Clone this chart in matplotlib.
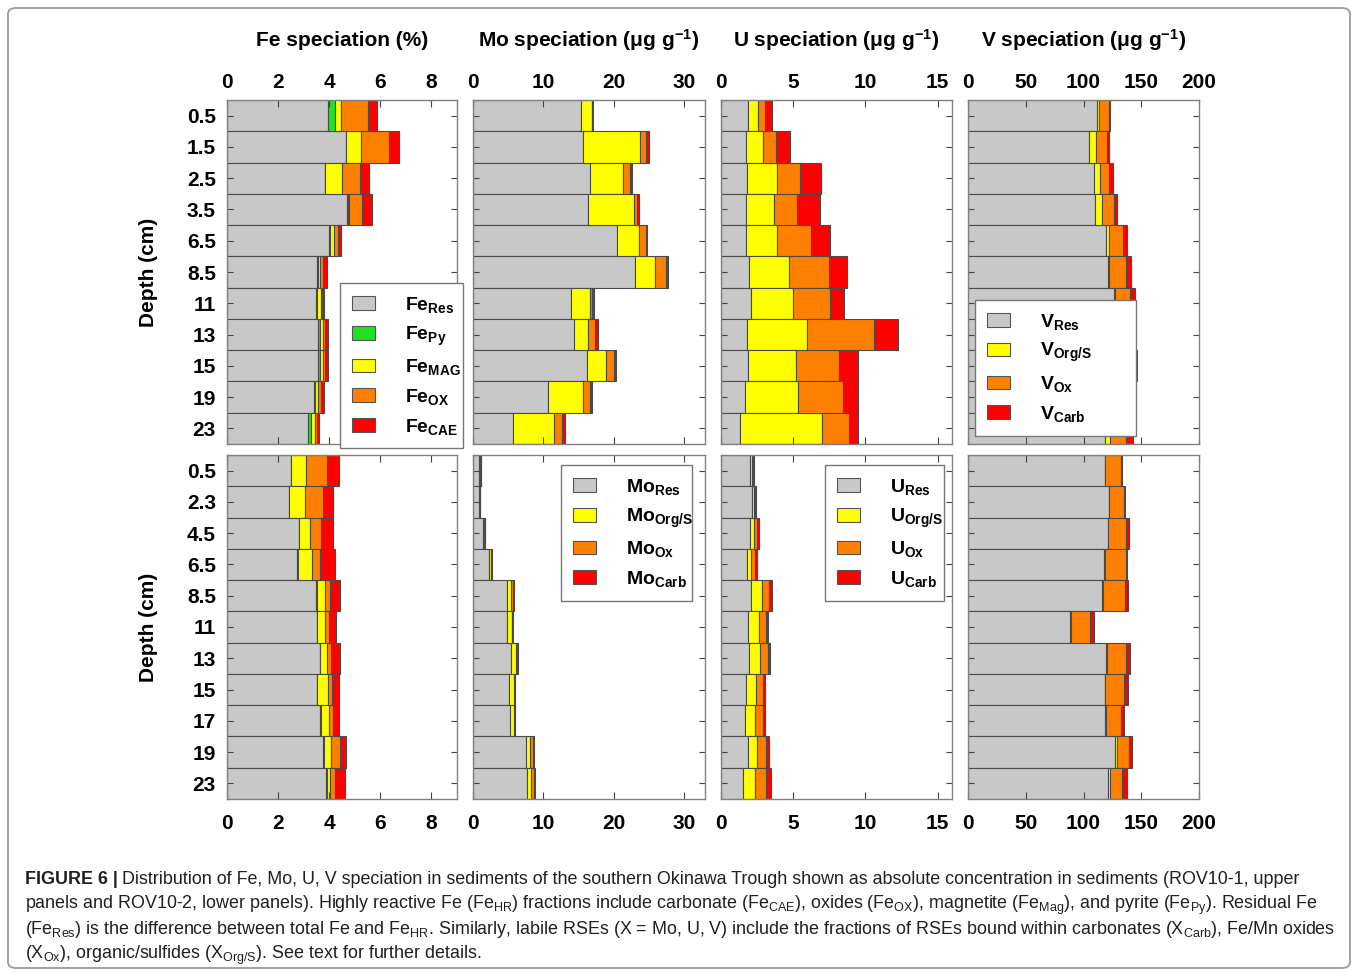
import matplotlib
matplotlib.use('Agg')
import matplotlib.pyplot as plt
from matplotlib import font_manager
from matplotlib.patches import Patch, FancyBboxPatch
import numpy as np

# depth labels (cm)
depth1 = ['0.5', '1.5', '2.5', '3.5', '6.5', '8.5', '11', '13', '15', '19', '23']
depth2 = ['0.5', '2.3', '4.5', '6.5', '8.5', '11', '13', '15', '17', '19', '23']

# ROV10-1 (upper panels)
fe1_res = [3.97, 4.64, 3.82, 4.70, 3.98, 3.52, 3.48, 3.57, 3.58, 3.40, 3.18]
fe1_py = [0.26, 0.03, 0.02, 0.04, 0.04, 0.03, 0.03, 0.05, 0.05, 0.06, 0.09]
fe1_mag = [0.25, 0.56, 0.67, 0.02, 0.16, 0.10, 0.15, 0.13, 0.13, 0.12, 0.19]
fe1_ox = [1.05, 1.10, 0.71, 0.51, 0.16, 0.09, 0.05, 0.08, 0.07, 0.08, 0.06]
fe1_cae = [0.34, 0.41, 0.33, 0.39, 0.14, 0.17, 0.07, 0.14, 0.12, 0.13, 0.09]

mo1_res = [15.4, 15.7, 16.6, 16.3, 20.5, 23.0, 13.9, 14.3, 16.2, 10.7, 5.65]
mo1_org = [1.5, 8.1, 4.7, 6.55, 3.06, 2.87, 2.68, 2.1, 2.78, 4.93, 5.84]
mo1_ox = [0.05, 0.86, 1.05, 0.48, 1.0, 1.58, 0.38, 1.0, 1.1, 0.96, 1.24]
mo1_carb = [0.1, 0.33, 0.33, 0.29, 0.23, 0.34, 0.29, 0.43, 0.33, 0.33, 0.38]

u1_res = [1.86, 1.74, 1.81, 1.70, 1.72, 1.91, 2.05, 1.81, 1.84, 1.65, 1.35]
u1_org = [0.70, 1.14, 2.05, 1.95, 2.19, 2.77, 2.93, 4.12, 3.33, 3.65, 5.65]
u1_ox = [0.51, 0.93, 1.63, 1.63, 2.32, 2.77, 2.56, 4.65, 3.02, 3.12, 1.88]
u1_carb = [0.46, 0.96, 1.46, 1.60, 1.30, 1.28, 0.98, 1.70, 1.30, 1.07, 0.60]

v1_res = [111.8, 105.1, 109.2, 109.8, 119.9, 121.3, 126.0, 125.1, 127.1, 115.6, 119.0]
v1_org = [1.7, 5.5, 4.9, 6.3, 2.3, 1.2, 1.4, 0.6, 1.2, 5.5, 4.1]
v1_ox = [9.0, 9.6, 8.4, 10.2, 11.9, 14.5, 12.5, 13.9, 13.3, 13.3, 13.6]
v1_carb = [0.6, 1.7, 2.9, 2.3, 3.5, 4.0, 4.9, 4.6, 4.9, 4.3, 6.1]

# ROV10-2 (lower panels)
fe2_res = [2.51, 2.42, 2.81, 2.75, 3.50, 3.52, 3.63, 3.53, 3.65, 3.74, 3.87]
fe2_py = [0.01, 0.01, 0.01, 0.01, 0.03, 0.02, 0.01, 0.01, 0.01, 0.06, 0.04]
fe2_mag = [0.57, 0.62, 0.41, 0.56, 0.30, 0.29, 0.28, 0.42, 0.32, 0.26, 0.11]
fe2_ox = [0.81, 0.69, 0.44, 0.30, 0.19, 0.17, 0.16, 0.14, 0.17, 0.38, 0.22]
fe2_cae = [0.48, 0.42, 0.46, 0.62, 0.41, 0.28, 0.33, 0.28, 0.23, 0.23, 0.36]

mo2_res = [0.86, 0.86, 1.44, 2.3, 4.88, 4.88, 5.45, 5.17, 5.26, 7.56, 7.66]
mo2_org = [0.2, 0.15, 0.18, 0.28, 0.57, 0.62, 0.67, 0.62, 0.53, 0.57, 0.57]
mo2_ox = [0.02, 0.02, 0.03, 0.05, 0.24, 0.1, 0.14, 0.14, 0.14, 0.38, 0.43]
mo2_carb = [0.02, 0.02, 0.02, 0.02, 0.1, 0.09, 0.1, 0.1, 0.1, 0.19, 0.14]

u2_res = [2.0, 2.14, 1.98, 1.81, 2.09, 1.86, 1.91, 1.70, 1.65, 1.84, 1.53]
u2_org = [0.16, 0.14, 0.33, 0.28, 0.74, 0.77, 0.79, 0.72, 0.70, 0.67, 0.84]
u2_ox = [0.05, 0.09, 0.21, 0.28, 0.49, 0.51, 0.53, 0.51, 0.53, 0.58, 0.75]
u2_carb = [0.05, 0.05, 0.09, 0.09, 0.21, 0.14, 0.16, 0.14, 0.16, 0.21, 0.37]

v2_res = [118.2, 122.2, 121.1, 117.6, 116.4, 88.0, 119.6, 118.2, 118.7, 127.7, 121.3]
v2_org = [0.8, 0.3, 0.5, 1.1, 0.4, 0.9, 0.6, 0.6, 0.6, 1.2, 1.8]
v2_ox = [13.9, 12.4, 15.1, 18.3, 19.0, 16.5, 16.5, 16.1, 13.0, 10.4, 10.1]
v2_carb = [0.3, 0.9, 2.3, 0.6, 2.3, 3.5, 3.2, 3.5, 2.4, 2.6, 4.7]

titles = ['Fe speciation (%)', 'Mo speciation (μg g$^{-1}$)',
          'U speciation (μg g$^{-1}$)', 'V speciation (μg g$^{-1}$)']
xlims = [9, 33, 16, 200]
xticks = [[0, 2, 4, 6, 8], [0, 10, 20, 30], [0, 5, 10, 15], [0, 50, 100, 150, 200]]

GRAY, GREEN, YEL, ORA, RED = '#c8c8c8', '#22e022', '#ffff00', '#ff8000', '#ff0000'
fe_cols = [GRAY, GREEN, YEL, ORA, RED]
x_cols = [GRAY, YEL, ORA, RED]

names = {f.name for f in font_manager.fontManager.ttflist}
cap_font = 'Liberation Sans Narrow' if 'Liberation Sans Narrow' in names else 'Liberation Sans'
plt.rcParams['font.family'] = ['Liberation Sans', 'DejaVu Sans']
plt.rcParams['mathtext.default'] = 'regular'

W, H = 1358, 976
fig = plt.figure(figsize=(W / 100, H / 100), dpi=100)

def px_axes(x0, x1, y0, y1):
    return fig.add_axes([x0 / W, 1 - y1 / H, (x1 - x0) / W, (y1 - y0) / H])

cols = [(227, 457), (473, 705), (721, 952), (968, 1199)]
rows = [(100, 444), (455, 799)]

panels = [
    [[fe1_res, fe1_py, fe1_mag, fe1_ox, fe1_cae], [mo1_res, mo1_org, mo1_ox, mo1_carb],
     [u1_res, u1_org, u1_ox, u1_carb], [v1_res, v1_org, v1_ox, v1_carb]],
    [[fe2_res, fe2_py, fe2_mag, fe2_ox, fe2_cae], [mo2_res, mo2_org, mo2_ox, mo2_carb],
     [u2_res, u2_org, u2_ox, u2_carb], [v2_res, v2_org, v2_ox, v2_carb]],
]
depths = [depth1, depth2]

axes = {}
for r in range(2):
    for c in range(4):
        ax = px_axes(cols[c][0], cols[c][1], rows[r][0], rows[r][1])
        axes[r, c] = ax
        y = np.arange(len(depths[r]))
        colors = fe_cols if c == 0 else x_cols
        left = np.zeros(len(y))
        for vals, col in zip(panels[r][c], colors):
            vals = np.array(vals)
            ax.barh(y, vals, left=left, height=1, color=col, edgecolor='#4a4a4a', linewidth=0.8)
            left += vals
        ax.set_xlim(0, xlims[c])
        ax.set_ylim(len(y) - 0.5, -0.5)
        ax.set_xticks(xticks[c])
        ax.set_yticks(y)
        if c == 0:
            ax.set_yticklabels(depths[r], fontsize=15, fontweight='bold')
        else:
            ax.set_yticklabels([])
        ax.tick_params(axis='y', direction='in', left=True, right=True, length=4, color='#444', pad=8)
        ax.tick_params(axis='x', direction='in', top=True, bottom=True, length=5, color='#444',
                       labelsize=15, pad=6 if r == 0 else 11,
                       labeltop=(r == 0), labelbottom=(r == 1))
        for lab in ax.get_xticklabels():
            lab.set_fontweight('bold')
        for s in ax.spines.values():
            s.set_color('#808080')
            s.set_linewidth(1.0)

for c in range(4):
    fig.text((cols[c][0] + cols[c][1]) / 2 / W, 1 - 40 / H, titles[c],
             ha='center', va='center', fontsize=15, fontweight='bold')

for r in range(2):
    fig.text(148 / W, 1 - (rows[r][0] + rows[r][1]) / 2 / H, 'Depth (cm)', rotation=90,
             ha='center', va='center', fontsize=15, fontweight='bold')

def add_legend(ax, elem, subs, colors, x0, ytop, width):
    handles = [Patch(facecolor=col, edgecolor='#555555', linewidth=0.8) for col in colors]
    labels = [elem + '$_{' + s + '}$' for s in subs]
    leg = ax.legend(handles, labels, loc='upper left', bbox_to_anchor=(x0, ytop, width, 0),
                    mode='expand', frameon=True, fancybox=False, framealpha=1, edgecolor='#777777',
                    prop=dict(weight='bold', size=14), handlelength=1.2, handleheight=0.7,
                    handletextpad=1.55, labelspacing=0.5, borderpad=0.6, borderaxespad=0)
    leg.get_frame().set_linewidth(1.0)
    leg.set_zorder(10)

add_legend(axes[0, 0], 'Fe', ['Res', 'Py', 'MAG', 'OX', 'CAE'], fe_cols, 0.491, 0.468, 0.535)
add_legend(axes[1, 1], 'Mo', ['Res', 'Org/S', 'Ox', 'Carb'], x_cols, 0.379, 0.971, 0.565)
add_legend(axes[1, 2], 'U', ['Res', 'Org/S', 'Ox', 'Carb'], x_cols, 0.45, 0.971, 0.515)
add_legend(axes[0, 3], 'V', ['Res', 'Org/S', 'Ox', 'Carb'], x_cols, 0.03, 0.419, 0.697)

# caption
cap_col = '#231f20'
cap_lines = [
    'Distribution of Fe, Mo, U, V speciation in sediments of the southern Okinawa Trough shown as absolute concentration in sediments (ROV10-1, upper',
    'panels and ROV10-2, lower panels). Highly reactive Fe (Fe$_{HR}$) fractions include carbonate (Fe$_{CAE}$), oxides (Fe$_{OX}$), magnetite (Fe$_{Mag}$), and pyrite (Fe$_{Py}$). Residual Fe',
    '(Fe$_{Res}$) is the difference between total Fe and Fe$_{HR}$. Similarly, labile RSEs (X = Mo, U, V) include the fractions of RSEs bound within carbonates (X$_{Carb}$), Fe/Mn oxides',
    '(X$_{Ox}$), organic/sulfides (X$_{Org/S}$). See text for further details.',
]
renderer = fig.canvas.get_renderer()
t0 = fig.text(25 / W, 1 - 880 / H, 'FIGURE 6 |', ha='left', va='center', fontsize=12,
              fontweight='bold', family=cap_font, color=cap_col)
t1 = fig.text(0, 1 - 880 / H, cap_lines[0], ha='left', va='center', fontsize=12,
              family=cap_font, color=cap_col)
# size the caption so the first line is about as wide as in the reference
w0 = t0.get_window_extent(renderer).width
w1 = t1.get_window_extent(renderer).width
cap_size = 12 * (1300 - 25 - 4) / (w0 + w1)
t0.set_fontsize(cap_size)
t1.set_fontsize(cap_size)
bb = t0.get_window_extent(renderer)
t1.set_x(bb.x1 / W + 4 / W)
for i, line in enumerate(cap_lines[1:]):
    fig.text(25 / W, 1 - (905 + 25 * i) / H, line, ha='left', va='center', fontsize=cap_size,
             family=cap_font, color=cap_col)

border = FancyBboxPatch((8 / W, 8 / H), 1342 / W, 960 / H, boxstyle='round,pad=0,rounding_size=0.006',
                        transform=fig.transFigure, fill=False, edgecolor='#9a9a9a', linewidth=1.3)
fig.patches.append(border)

fig.savefig('out.png', dpi=100)
